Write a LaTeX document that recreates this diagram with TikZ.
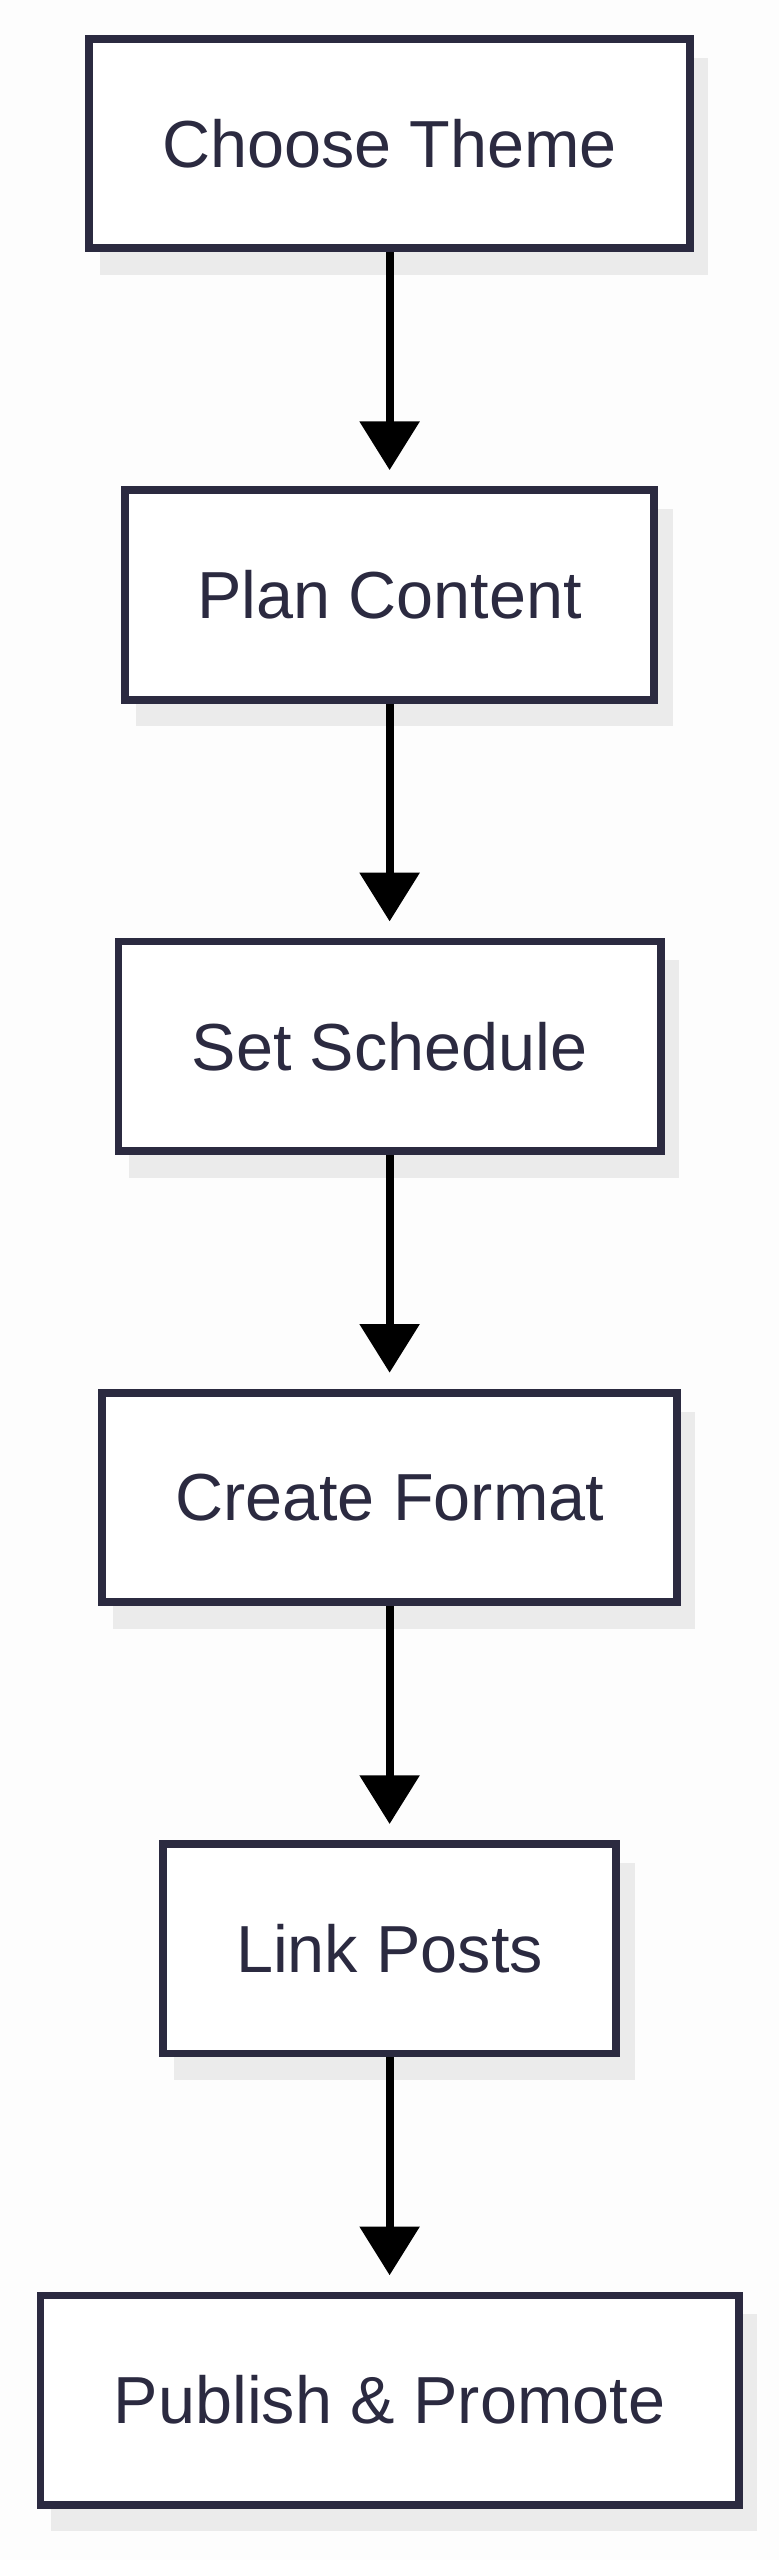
\documentclass[tikz,border=0pt]{standalone}
\usepackage{fontspec}
\setmainfont{Liberation Sans}
\usetikzlibrary{arrows.meta,backgrounds}
\definecolor{ink}{HTML}{2B2A40}
\definecolor{shadowgrey}{HTML}{EBEBEB}
\definecolor{bgpaper}{HTML}{FDFDFD}
\begin{document}
\begin{tikzpicture}[x=1pt,y=-1pt,
  stepbox/.style={draw=ink,line width=4.8pt,fill=white,minimum height=129pt,inner sep=0pt,
    text=ink,font=\fontsize{41}{48}\selectfont},
  conn/.style={line width=4.8pt,draw=black,-{Triangle[width=36pt,length=30pt]},shorten >=10pt}]
\node[stepbox,minimum width=370pt] (a) at (240,88.5) {Choose Theme};
\node[stepbox,minimum width=326pt] (b) at (240,366.5) {Plan Content};
\node[stepbox,minimum width=334pt] (c) at (240,644.5) {Set Schedule};
\node[stepbox,minimum width=354pt] (d) at (240,922.5) {Create Format};
\node[stepbox,minimum width=279pt] (e) at (240,1200.5) {Link Posts};
\node[stepbox,minimum width=430pt] (f) at (240,1478.5) {Publish \& Promote};
\begin{scope}[on background layer]
\fill[bgpaper] (0,0) rectangle (480,1577);
\foreach \n in {a,b,c,d,e,f}
  \fill[fill=shadowgrey] ([shift={(9,14)}]\n.south west) rectangle ([shift={(9,14)}]\n.north east);
\end{scope}
\draw[conn] (a.south) -- (b.north);
\draw[conn] (b.south) -- (c.north);
\draw[conn] (c.south) -- (d.north);
\draw[conn] (d.south) -- (e.north);
\draw[conn] (e.south) -- (f.north);
\end{tikzpicture}
\end{document}
